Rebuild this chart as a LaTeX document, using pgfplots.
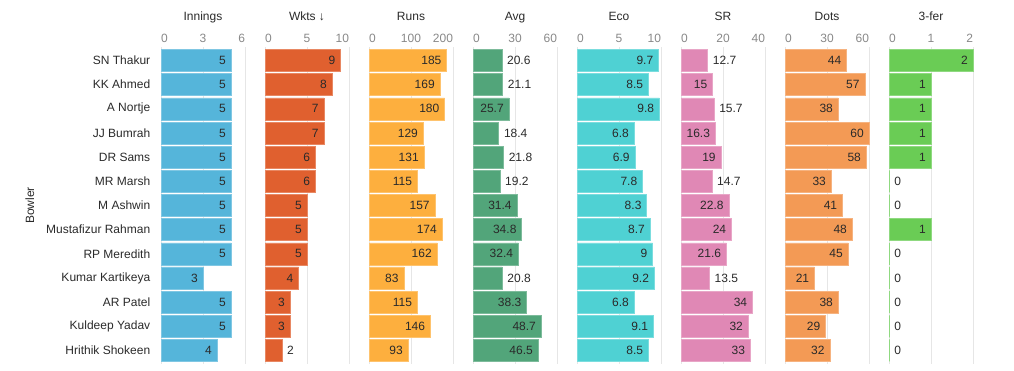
\documentclass[border=0pt]{standalone}
\usepackage{pgfplots}
\pgfplotsset{compat=1.18}
\usepackage{pgfplotstable}
\usepackage{fontspec}
\setmainfont{Liberation Sans}

\definecolor{cInn}{HTML}{55B5DA}
\definecolor{cWk}{HTML}{E0602F}
\definecolor{cRuns}{HTML}{FDAF3E}
\definecolor{cAvg}{HTML}{52A57A}
\definecolor{cEco}{HTML}{4FD1D3}
\definecolor{cSR}{HTML}{E088B5}
\definecolor{cDots}{HTML}{F39A55}
\definecolor{cTf}{HTML}{6ACC55}
\definecolor{txt}{HTML}{2A2A2A}
\definecolor{tick}{HTML}{888888}
\definecolor{grd}{HTML}{E6E6E6}

\pgfplotstableread{
idx inn innp wk wkp runs runsp avg avgp eco ecop sr srp dots dotsp tf tfp
0  5 east 9 east 185 east 20.6 west 9.7 east 12.7 west 44 east 2 east
1  5 east 8 east 169 east 21.1 west 8.5 east 15   east 57 east 1 east
2  5 east 7 east 180 east 25.7 east 9.8 east 15.7 west 38 east 1 east
3  5 east 7 east 129 east 18.4 west 6.8 east 16.3 east 60 east 1 east
4  5 east 6 east 131 east 21.8 west 6.9 east 19   east 58 east 1 east
5  5 east 6 east 115 east 19.2 west 7.8 east 14.7 west 33 east 0 west
6  5 east 5 east 157 east 31.4 east 8.3 east 22.8 east 41 east 0 west
7  5 east 5 east 174 east 34.8 east 8.7 east 24   east 48 east 1 east
8  5 east 5 east 162 east 32.4 east 9   east 21.6 east 45 east 0 west
9  3 east 4 east 83  east 20.8 west 9.2 east 13.5 west 21 east 0 west
10 5 east 3 east 115 east 38.3 east 6.8 east 34   east 38 east 0 west
11 5 east 3 east 146 east 48.7 east 9.1 east 32   east 29 east 0 west
12 4 east 2 west 93  east 46.5 east 8.5 east 33   east 32 east 0 west
}\data

\newcommand{\fs}{\fontsize{12}{14}\selectfont}

\pgfplotsset{
  /pgf/number format/assume math mode=true,
  panel/.style={
    at={(#1pt,6pt)}, anchor=south west,
    scale only axis, width=84pt, height=317pt,
    xmin=0, ymin=-0.56, ymax=12.56, y dir=reverse,
    xbar, bar width=22.5pt,
    ytick=\empty,
    axis line style={draw=none},
    tick style={draw=none},
    xmajorgrids, grid style={color=grd, line width=0.8pt},
    xticklabel pos=upper,
    xticklabel style={font=\fs, text=tick, anchor=base, yshift=5pt},
    clip=false,
  },
  bars/.style={
    xbar, fill=#1, draw=#1!75!white, line width=0.6pt, bar width=22pt,
    point meta=explicit symbolic,
    nodes near coords={\pgfmathprintnumber{\pgfkeysvalueof{/data point/x}}},
    nodes near coords style={font=\fs, text=txt, anchor=\pgfplotspointmeta, inner xsep=5pt},
  },
}

\begin{document}
\begin{tikzpicture}
\useasboundingbox (0,0) rectangle (1014pt,370pt);

\begin{axis}[panel=161, xmax=6, xtick={0,3,6},
  xticklabels={\makebox[0pt][l]{0},3,\makebox[0pt][r]{6}},
  ytick={0,...,12},
  yticklabels={SN Thakur,KK Ahmed,A Nortje,JJ Bumrah,DR Sams,MR Marsh,M Ashwin,Mustafizur Rahman,RP Meredith,Kumar Kartikeya,AR Patel,Kuldeep Yadav,Hrithik Shokeen},
  yticklabel style={font=\fs, text=txt, anchor=east, xshift=-3pt},
  ylabel={Bowler}, ylabel style={at={(axis description cs:-1.56,0.5)}, anchor=center, font=\fs, text=txt}]
\addplot[bars=cInn] table[x=inn, y=idx, meta=innp] {\data};
\node[anchor=base, font=\fs, text=txt] at (axis description cs:0.5,1) [yshift=27pt] {Innings};
\end{axis}

\begin{axis}[panel=265, xmax=10, xtick={0,5,10},
  xticklabels={\makebox[0pt][l]{0},5,\makebox[0pt][r]{10}}]
\addplot[bars=cWk] table[x=wk, y=idx, meta=wkp] {\data};
\node[anchor=base, font=\fs, text=txt] at (axis description cs:0.5,1) [yshift=27pt] {Wkts ↓};
\end{axis}

\begin{axis}[panel=369, xmax=200, xtick={0,100,200},
  xticklabels={\makebox[0pt][l]{0},100,\makebox[0pt][r]{200}}]
\addplot[bars=cRuns] table[x=runs, y=idx, meta=runsp] {\data};
\node[anchor=base, font=\fs, text=txt] at (axis description cs:0.5,1) [yshift=27pt] {Runs};
\end{axis}

\begin{axis}[panel=473, xmax=60, xtick={0,30,60},
  xticklabels={\makebox[0pt][l]{0},30,\makebox[0pt][r]{60}}]
\addplot[bars=cAvg] table[x=avg, y=idx, meta=avgp] {\data};
\node[anchor=base, font=\fs, text=txt] at (axis description cs:0.5,1) [yshift=27pt] {Avg};
\end{axis}

\begin{axis}[panel=577, xmax=10, xtick={0,5,10},
  xticklabels={\makebox[0pt][l]{0},5,\makebox[0pt][r]{10}}]
\addplot[bars=cEco] table[x=eco, y=idx, meta=ecop] {\data};
\node[anchor=base, font=\fs, text=txt] at (axis description cs:0.5,1) [yshift=27pt] {Eco};
\end{axis}

\begin{axis}[panel=681, xmax=40, xtick={0,20,40},
  xticklabels={\makebox[0pt][l]{0},20,\makebox[0pt][r]{40}}]
\addplot[bars=cSR] table[x=sr, y=idx, meta=srp] {\data};
\node[anchor=base, font=\fs, text=txt] at (axis description cs:0.5,1) [yshift=27pt] {SR};
\end{axis}

\begin{axis}[panel=785, xmax=60, xtick={0,30,60},
  xticklabels={\makebox[0pt][l]{0},30,\makebox[0pt][r]{60}}]
\addplot[bars=cDots] table[x=dots, y=idx, meta=dotsp] {\data};
\node[anchor=base, font=\fs, text=txt] at (axis description cs:0.5,1) [yshift=27pt] {Dots};
\end{axis}

\begin{axis}[panel=889, xmax=2, xtick={0,1,2},
  xticklabels={\makebox[0pt][l]{0},1,\makebox[0pt][r]{2}}]
\addplot[bars=cTf] table[x=tf, y=idx, meta=tfp] {\data};
\node[anchor=base, font=\fs, text=txt] at (axis description cs:0.5,1) [yshift=27pt] {3-fer};
\end{axis}
\end{tikzpicture}
\end{document}
